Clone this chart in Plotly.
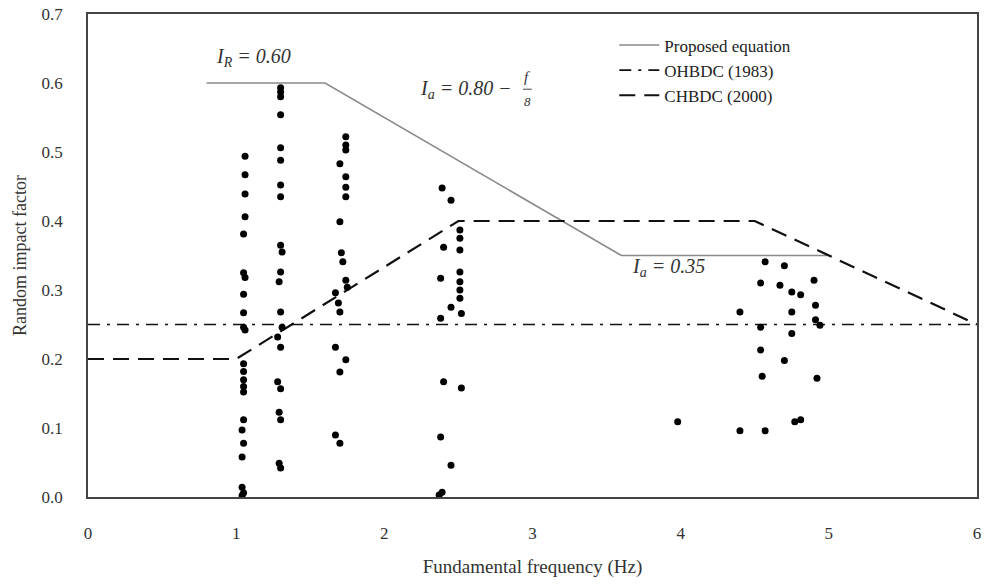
import plotly.graph_objects as go

# ---- data ----
freq_hz = [
    # column near 1.05 Hz
    1.06, 1.06, 1.06, 1.06, 1.05, 1.05, 1.06, 1.05, 1.05, 1.05, 1.06, 1.05, 1.05, 1.05, 1.05, 1.05,
    1.05, 1.04, 1.05, 1.04, 1.04, 1.05, 1.04,
    # column near 1.30 Hz
    1.30, 1.30, 1.30, 1.30, 1.30, 1.30, 1.30, 1.30, 1.30, 1.31, 1.30, 1.29, 1.30, 1.31, 1.28, 1.30,
    1.28, 1.30, 1.29, 1.30, 1.29, 1.30,
    # column near 1.72 Hz
    1.74, 1.74, 1.74, 1.70, 1.74, 1.74, 1.74, 1.70, 1.71, 1.72, 1.74, 1.75, 1.67, 1.69, 1.70, 1.67,
    1.74, 1.70, 1.67, 1.70,
    # columns near 2.4 and 2.5 Hz
    2.39, 2.45, 2.51, 2.51, 2.51, 2.40, 2.38, 2.51, 2.51, 2.51, 2.51, 2.45, 2.52, 2.38, 2.40, 2.52,
    2.38, 2.45, 2.39, 2.37,
    # right-hand group
    3.98, 4.40, 4.40, 4.57, 4.54, 4.54, 4.54, 4.55, 4.57, 4.70, 4.67, 4.75, 4.81, 4.75, 4.75, 4.70,
    4.77, 4.81, 4.90, 4.91, 4.91, 4.94, 4.92,
]
impact_factor = [
    0.494, 0.467, 0.439, 0.406, 0.381, 0.325, 0.318, 0.294, 0.267, 0.246, 0.242, 0.193, 0.182, 0.170, 0.160, 0.152,
    0.112, 0.097, 0.078, 0.058, 0.014, 0.006, 0.002,
    0.593, 0.587, 0.580, 0.554, 0.506, 0.488, 0.452, 0.435, 0.365, 0.355, 0.326, 0.312, 0.268, 0.246, 0.232, 0.217,
    0.167, 0.157, 0.123, 0.112, 0.049, 0.042,
    0.522, 0.510, 0.503, 0.483, 0.464, 0.449, 0.435, 0.399, 0.354, 0.341, 0.314, 0.304, 0.296, 0.281, 0.268, 0.217,
    0.199, 0.181, 0.090, 0.078,
    0.448, 0.430, 0.387, 0.375, 0.358, 0.362, 0.317, 0.326, 0.312, 0.300, 0.288, 0.275, 0.266, 0.259, 0.167, 0.158,
    0.087, 0.046, 0.007, 0.003,
    0.109, 0.268, 0.096, 0.341, 0.310, 0.246, 0.213, 0.175, 0.096, 0.335, 0.307, 0.297, 0.293, 0.268, 0.237, 0.198,
    0.109, 0.112, 0.314, 0.278, 0.257, 0.249, 0.172,
]

proposed_x = [0.8, 1.6, 3.6, 5.0]
proposed_y = [0.60, 0.60, 0.35, 0.35]
ohbdc_x = [0.0, 6.0]
ohbdc_y = [0.25, 0.25]
chbdc_x = [0.0, 1.0, 2.5, 4.5, 6.0]
chbdc_y = [0.20, 0.20, 0.40, 0.40, 0.25]

x_ticks = [0, 1, 2, 3, 4, 5, 6]
y_ticks = [0.0, 0.1, 0.2, 0.3, 0.4, 0.5, 0.6, 0.7]

SERIF = "Liberation Serif"

fig = go.Figure()
fig.add_trace(go.Scatter(x=proposed_x, y=proposed_y, mode="lines", name="Proposed equation",
                         line=dict(color="#8a8a8a", width=1.6)))
fig.add_trace(go.Scatter(x=ohbdc_x, y=ohbdc_y, mode="lines", name="OHBDC (1983)",
                         line=dict(color="#111", width=1.6, dash="12px,7px,3px,7px")))
fig.add_trace(go.Scatter(x=chbdc_x, y=chbdc_y, mode="lines", name="CHBDC (2000)",
                         line=dict(color="#111", width=2.2, dash="16px,9px")))
fig.add_trace(go.Scatter(x=freq_hz, y=impact_factor, mode="markers", showlegend=False,
                         marker=dict(color="#000", size=7, line=dict(width=0))))

ann_font = dict(family=SERIF, size=20, color="#333")
fig.add_annotation(x=1.12, y=0.637, text="<i>I<sub>R</sub> = 0.60</i>", showarrow=False, font=ann_font)
fig.add_annotation(x=2.91, y=0.590, text="<i>I<sub>a</sub> = 0.80 − </i>", showarrow=False,
                   font=ann_font, xanchor="right")
fig.add_annotation(x=2.965, y=0.609, text="<i>f</i>", showarrow=False, font=dict(family=SERIF, size=15, color="#333"))
fig.add_annotation(x=2.965, y=0.573, text="<i>8</i>", showarrow=False, font=dict(family=SERIF, size=13, color="#333"))
fig.add_shape(type="line", x0=2.935, x1=2.995, y0=0.591, y1=0.591, line=dict(color="#444", width=1))
fig.add_annotation(x=3.92, y=0.333, text="<i>I<sub>a</sub> = 0.35</i>", showarrow=False, font=ann_font)

fig.update_layout(
    width=984, height=588,
    margin=dict(l=88, r=3, t=14, b=91),
    paper_bgcolor="white", plot_bgcolor="white",
    font=dict(family=SERIF, size=17, color="#333"),
    showlegend=True,
    legend=dict(x=0.592, y=0.972, xanchor="left", yanchor="top", bgcolor="rgba(0,0,0,0)",
                font=dict(family=SERIF, size=17, color="#222"), tracegroupgap=0, itemwidth=40),
    xaxis=dict(range=[0, 6], tickvals=x_ticks, ticktext=[str(v) for v in x_ticks],
               tickfont=dict(family=SERIF, size=17, color="#333"),
               showgrid=False, zeroline=False, showline=True, linecolor="#444", linewidth=1.5,
               mirror=True, ticks="", ticklabelstandoff=20,
               title=dict(text="Fundamental frequency (Hz)", font=dict(family=SERIF, size=19, color="#333"), standoff=18)),
    yaxis=dict(range=[0, 0.7], tickvals=y_ticks, ticktext=[f"{v:.1f}" for v in y_ticks],
               tickfont=dict(family=SERIF, size=17, color="#333"),
               showgrid=False, zeroline=False, showline=True, linecolor="#444", linewidth=1.5,
               mirror=True, ticks="", ticklabelstandoff=20,
               title=dict(text="Random impact factor", font=dict(family=SERIF, size=18, color="#333"), standoff=10)),
)

fig.write_html("out.html")
